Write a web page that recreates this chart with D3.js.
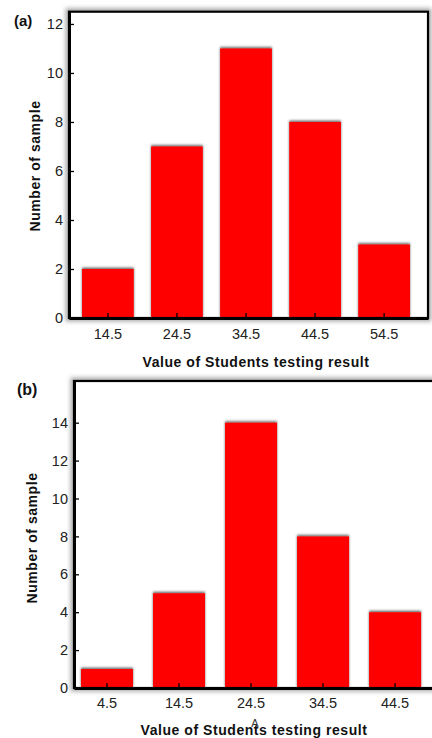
<!DOCTYPE html>
<html>
<meta charset="utf-8" />
<script src="https://d3js.org/d3.v7.min.js"></script>
<body>
<div id="chart"></div>
<script>
// data
var catsA = ["14.5", "24.5", "34.5", "44.5", "54.5"];
var countsA = [2, 7, 11, 8, 3];
var yTicksA = [0, 2, 4, 6, 8, 10, 12];

var catsB = ["4.5", "14.5", "24.5", "34.5", "44.5"];
var countsB = [1, 5, 14, 8, 4];
var yTicksB = [0, 2, 4, 6, 8, 10, 12, 14];

var xTitle = "Value of Students testing result";
var yTitle = "Number of sample";

var svg = d3.select("#chart")
  .append("svg")
    .attr("width", 432)
    .attr("height", 738)
    .style("font-family", "'Liberation Sans', Arial, sans-serif");

var defs = svg.append("defs");
var fr = defs.append("filter").attr("id", "halo")
  .attr("x", "-10%").attr("y", "-10%").attr("width", "120%").attr("height", "120%");
fr.append("feGaussianBlur").attr("stdDeviation", 2);

var bs = defs.append("filter").attr("id", "barshadow")
  .attr("x", "-20%").attr("y", "-20%").attr("width", "140%").attr("height", "140%");
bs.append("feDropShadow")
  .attr("dx", 0).attr("dy", -1.4)
  .attr("stdDeviation", 1.1)
  .attr("flood-color", "#333")
  .attr("flood-opacity", 0.75);

function panel(o) {
  var g = svg.append("g");

  var x = d3.scaleBand()
    .domain(o.cats)
    .range([o.left, o.right])
    .paddingInner(o.pi)
    .paddingOuter(o.po)
    .align(o.align);

  var y = d3.scaleLinear()
    .domain([0, o.ymax])
    .range([o.bottom, o.top]);

  // soft grey halo around the frame
  g.append("rect")
    .attr("x", o.left).attr("y", o.top)
    .attr("width", o.right - o.left).attr("height", o.bottom - o.top)
    .attr("fill", "none")
    .attr("stroke", "#aaa")
    .attr("stroke-width", 7)
    .attr("filter", "url(#halo)");

  g.append("rect")
    .attr("x", o.left).attr("y", o.top)
    .attr("width", o.right - o.left).attr("height", o.bottom - o.top)
    .attr("fill", "white");

  g.append("g").selectAll("rect")
    .data(o.counts)
    .enter()
    .append("rect")
    .attr("x", function(d, i) { return x(o.cats[i]); })
    .attr("y", function(d) { return y(d); })
    .attr("width", x.bandwidth())
    .attr("height", function(d) { return y(0) - y(d); })
    .attr("fill", "#ff0000")
    .attr("filter", "url(#barshadow)");

  // frame
  g.append("rect")
    .attr("x", o.left).attr("y", o.top)
    .attr("width", o.right - o.left).attr("height", o.bottom - o.top)
    .attr("fill", "none")
    .attr("stroke", "black")
    .attr("stroke-width", 2.2);

  var ya = g.append("g")
    .attr("transform", "translate(" + o.left + ",0)")
    .call(d3.axisLeft(y).tickValues(o.yticks).tickSizeInner(-5).tickSizeOuter(0).tickPadding(6));
  var xa = g.append("g")
    .attr("transform", "translate(0," + o.bottom + ")")
    .call(d3.axisBottom(x).tickSizeInner(-5).tickSizeOuter(0).tickPadding(o.xpad));

  [ya, xa].forEach(function(a) {
    a.select(".domain").attr("stroke", "black").attr("stroke-width", 3);
    a.selectAll(".tick line").attr("stroke", "black").attr("stroke-width", 1.3);
    a.selectAll(".tick text")
      .attr("fill", "#222")
      .style("font-size", "14.5px")
      .style("font-family", "'Liberation Sans', Arial, sans-serif");
  });

  g.append("text")
    .attr("x", o.xtx).attr("y", o.xty)
    .attr("text-anchor", "middle")
    .style("font-size", "14px")
    .style("font-weight", "bold")
    .style("letter-spacing", "0.55px")
    .attr("fill", "#111")
    .text(xTitle);

  g.append("text")
    .attr("transform", "translate(" + o.ytx + "," + o.yty + ") rotate(-90)")
    .attr("text-anchor", "middle")
    .style("font-size", "14px")
    .style("font-weight", "bold")
    .style("letter-spacing", "0.55px")
    .attr("fill", "#111")
    .text(yTitle);

  g.append("text")
    .attr("x", o.lx).attr("y", o.ly)
    .style("font-size", o.lsize)
    .style("font-weight", "bold")
    .attr("fill", "#111")
    .text(o.label);
}

panel({
  cats: catsA, counts: countsA, yticks: yTicksA, ymax: 12.5,
  left: 69, right: 428, top: 11.7, bottom: 318,
  pi: 0.25, po: 0.2245, align: 0.42, xpad: 11,
  xtx: 256, xty: 367, ytx: 40, yty: 166,
  label: "(a)", lx: 14, ly: 26, lsize: "15px"
});

panel({
  cats: catsB, counts: countsB, yticks: yTicksB, ymax: 16.2,
  left: 74, right: 440, top: 381, bottom: 688,
  pi: 0.278, po: 0.18, align: 0.27, xpad: 10,
  xtx: 254, xty: 735, ytx: 37, yty: 538,
  label: "(b)", lx: 17, ly: 395, lsize: "16px"
});

// stray letter sitting on the lower x title
svg.append("text")
  .attr("x", 255).attr("y", 727)
  .attr("text-anchor", "middle")
  .style("font-size", "11px")
  .attr("fill", "#333")
  .text("A");
</script>
</body>
<style>
  body { margin: 0; background: white; }
</style>
</html>
